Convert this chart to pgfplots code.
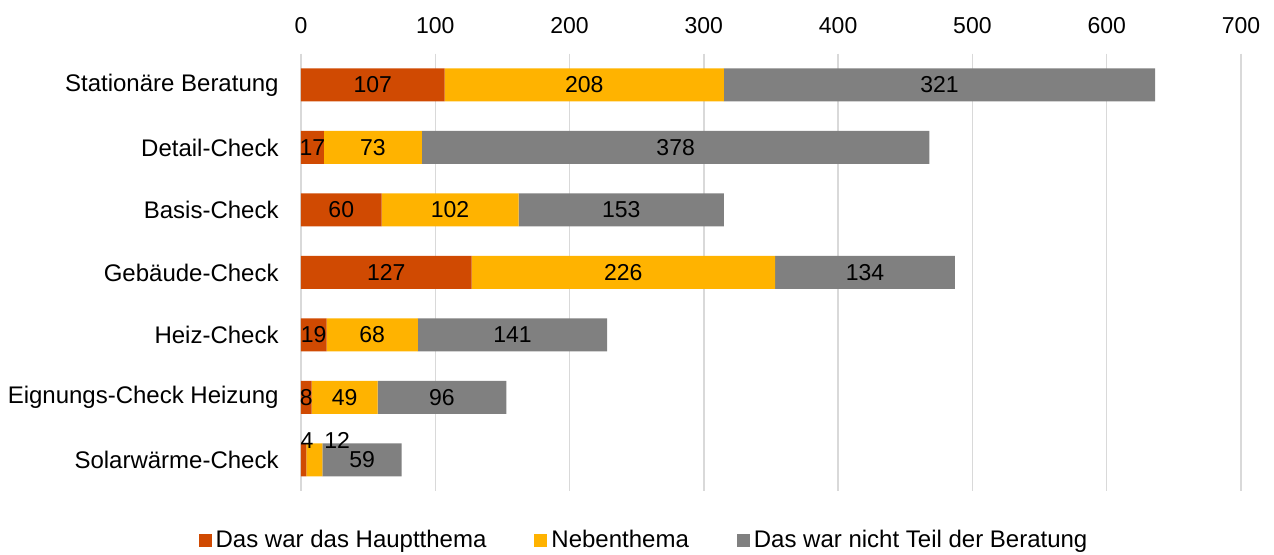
\documentclass[border=0pt]{standalone}
\usepackage{fontspec}
\setmainfont{Liberation Sans}
\usepackage{pgfplots}
\pgfplotsset{compat=1.18}
\usepackage{pgfplotstable}
\definecolor{cA}{HTML}{D04A02}
\definecolor{cB}{HTML}{FFB300}
\definecolor{cC}{HTML}{808080}
\definecolor{gridc}{HTML}{D9D9D9}

\pgfplotstableread{
y v dx dy
0 107 0 0
1 17 0 0
2 60 0 0
3 127 0 0
4 19 0 0
5 8 0 0
6 4 2.5 9.5
}\tA
\pgfplotstableread{
y v dx dy
0 208 0 0
1 73 0 0
2 102 0 0
3 226 0 0
4 68 0 0
5 49 0 0
6 12 17 9.5
}\tB
\pgfplotstableread{
y v dx dy
0 321 0 0
1 378 0 0
2 153 0 0
3 134 0 0
4 141 0 0
5 96 0 0
6 59 0 0
}\tC

\begin{document}
\fontsize{12pt}{14.4pt}\selectfont
\begin{tikzpicture}
\begin{axis}[
  at={(0,0)}, anchor=south west,
  scale only axis,
  width=470pt, height=218.75pt,
  xbar stacked,
  bar width=16.5pt,
  xmin=0, xmax=700,
  ymin=-0.5, ymax=6.5,
  y dir=reverse,
  xtick={0,100,...,700},
  ytick={0,...,6},
  yticklabels={Stationäre Beratung,Detail-Check,Basis-Check,Gebäude-Check,Heiz-Check,Eignungs-Check Heizung,Solarwärme-Check},
  xticklabel pos=upper,
  xmajorgrids,
  grid style={gridc, line width=0.75pt},
  axis line style={draw=none},
  major tick style={draw=none},
  xticklabel style={yshift=6pt, font=\fontsize{11.5pt}{13.8pt}\selectfont},
  yticklabel style={xshift=-7pt, font=\fontsize{12pt}{14.4pt}\selectfont},
  /pgf/number format/assume math mode=true,
  point meta=explicit symbolic,
  nodes near coords={\pgfplotspointmeta},
  visualization depends on={\thisrow{dx}*0.671429 \as \sx},
  visualization depends on={\thisrow{dy} \as \sy},
  nodes near coords style={anchor=center, font=\fontsize{11.5pt}{13.8pt}\selectfont, text=black, xshift=\sx pt, yshift=\sy pt},
  legend columns=3,
  legend style={draw=none, fill=none, at={(axis description cs:0.366,-0.112)}, anchor=center,
    font=\fontsize{12pt}{14.4pt}\selectfont,
    /tikz/every even column/.append style={column sep=22pt},
    /tikz/every odd column/.append style={column sep=0pt}},
  legend image code/.code={\fill[#1] (0pt,-3.25pt) rectangle (6.5pt,3.25pt);},
]
\addplot[fill=cA, draw=none] table[x=v, y=y, meta=v] {\tA};
\addplot[fill=cB, draw=none] table[x=v, y=y, meta=v] {\tB};
\addplot[fill=cC, draw=none] table[x=v, y=y, meta=v] {\tC};
\legend{Das war das Hauptthema, Nebenthema, Das war nicht Teil der Beratung}
\end{axis}
\pgfresetboundingbox
\useasboundingbox (-150.5pt,-31.6pt) rectangle (486.5pt,245.6pt);
\end{tikzpicture}
\end{document}
